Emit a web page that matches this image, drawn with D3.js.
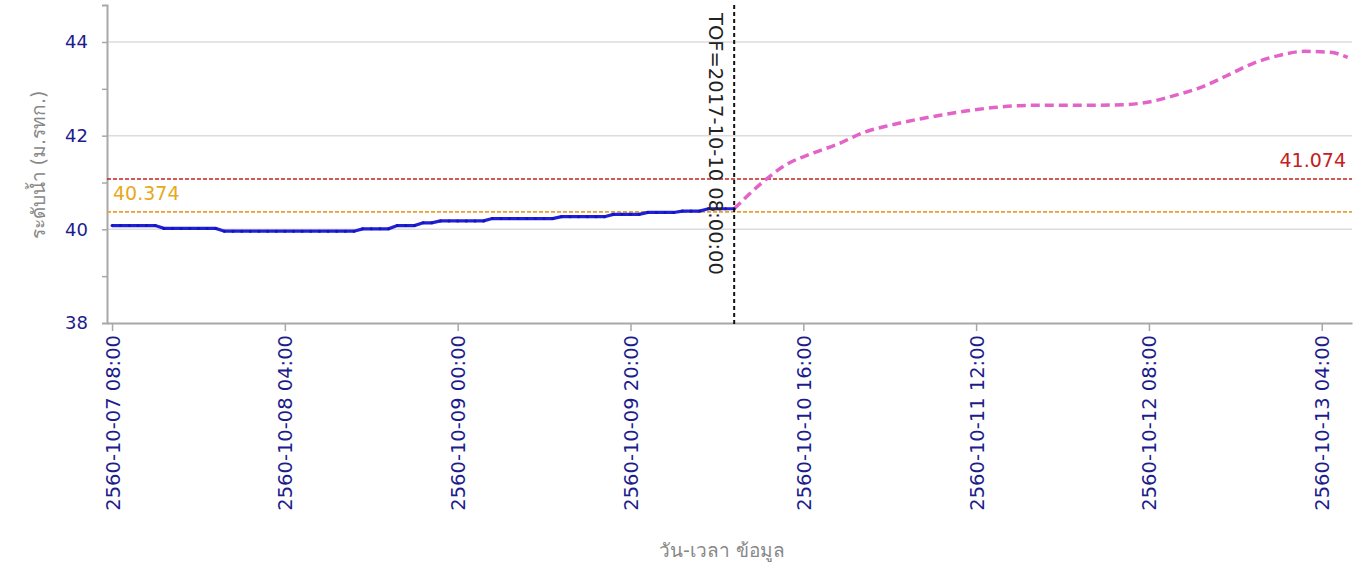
<!DOCTYPE html>
<html>
<head>
<meta charset="utf-8">
<script src="https://cdn.jsdelivr.net/npm/d3@7"></script>
<style>
  body { margin: 0; background: #fff; }
  text { font-family: Tahoma, "DejaVu Sans", sans-serif; }
</style>
</head>
<body>
<div id="chart"></div>
<script>
// observed water level, hourly from 2017-10-07 08:00 (= 2560 BE)
var obsStart = "2017-10-07 08:00";
var obsValues = [
  40.08, 40.08, 40.08, 40.08, 40.08, 40.08,
  40.02, 40.02, 40.02, 40.02, 40.02, 40.02, 40.02,
  39.96, 39.96, 39.96, 39.96, 39.96, 39.96, 39.96, 39.96,
  39.96, 39.96, 39.96, 39.96, 39.96, 39.96, 39.96, 39.96,
  40.01, 40.01, 40.01, 40.01,
  40.08, 40.08, 40.08,
  40.14, 40.14,
  40.18, 40.18, 40.18, 40.18, 40.18, 40.18,
  40.23, 40.23, 40.23, 40.23, 40.23, 40.23, 40.23, 40.23,
  40.27, 40.27, 40.27, 40.27, 40.27, 40.27,
  40.32, 40.32, 40.32, 40.32,
  40.36, 40.36, 40.36, 40.36,
  40.39, 40.39, 40.39,
  40.44, 40.44, 40.44, 40.44
];

// forecast (hours after obsStart, value)
var fcHours  = [72, 75, 78, 81, 84, 87, 90, 93, 96, 99, 102, 105, 108, 111, 114, 117, 120, 123, 126, 129, 132, 135, 138, 141, 143];
var fcValues = [40.44, 40.96, 41.38, 41.62, 41.82, 42.07, 42.22, 42.34, 42.44, 42.53, 42.60, 42.64, 42.65,
                42.65, 42.65, 42.66, 42.72, 42.86, 43.03, 43.28, 43.54, 43.71, 43.80, 43.78, 43.67];

var bankLevel = 41.074;   // red
var warnLevel = 40.374;   // orange
var tofTime = "2017-10-10 08:00";
var tofLabel = "TOF=2017-10-10 08:00:00";

var tickLabels = ["2560-10-07 08:00", "2560-10-08 04:00", "2560-10-09 00:00", "2560-10-09 20:00",
                  "2560-10-10 16:00", "2560-10-11 12:00", "2560-10-12 08:00", "2560-10-13 04:00"];
var yTicks = [38, 40, 42, 44];
var yMinor = [39, 41, 43];

var parse = d3.timeParse("%Y-%m-%d %H:%M");
var t0 = parse(obsStart);
var hr = 3600 * 1000;

var observed = obsValues.map(function(v, i) { return {t: new Date(+t0 + i * hr), v: v}; });
var forecast = fcValues.map(function(v, i) { return {t: new Date(+t0 + fcHours[i] * hr), v: v}; });
var tickDates = tickLabels.map(function(s) { return parse((+s.slice(0, 4) - 543) + s.slice(4)); });

var margin = {top: 5, right: 4, bottom: 241, left: 107},
  width = 1356 - margin.left - margin.right,
  height = 564 - margin.top - margin.bottom;

var svg = d3.select("#chart")
.append("svg")
  .attr("width", 1356)
  .attr("height", 564)
.append("g")
  .attr("transform", "translate(" + margin.left + "," + margin.top + ")");

var x = d3.scaleTime()
  .domain([parse("2017-10-07 07:25"), parse("2017-10-13 07:30")])
  .range([0, width]);
var y = d3.scaleLinear()
  .domain([38, 44.79])
  .range([height, 0]);

// grid
svg.selectAll(".grid")
  .data(yTicks.slice(1))
  .enter().append("line")
    .attr("x1", 0).attr("x2", width)
    .attr("y1", function(d) { return y(d); })
    .attr("y2", function(d) { return y(d); })
    .style("stroke", "#dcdcdc")
    .style("stroke-width", 1.5);

// y axis
var yAxis = svg.append("g")
  .call(d3.axisLeft(y).tickValues(yTicks).tickSize(5).tickPadding(14).tickFormat(d3.format("d")));
yAxis.selectAll(".tick:first-of-type line").remove();
svg.append("g")
  .call(d3.axisLeft(y).tickValues(yMinor).tickSize(5).tickFormat(""))
  .select(".domain").remove();

// x axis
var xAxis = svg.append("g")
  .attr("transform", "translate(0," + height + ")")
  .call(d3.axisBottom(x).tickValues(tickDates).tickSize(8).tickSizeOuter(0)
    .tickFormat(function(d, i) { return tickLabels[i]; }));
xAxis.selectAll("text")
  .attr("transform", "rotate(-90)")
  .attr("x", -12)
  .attr("y", 0)
  .attr("dy", "0.36em")
  .style("text-anchor", "end");

svg.selectAll(".domain").style("stroke", "#a8a8a8").style("stroke-width", 2);
svg.selectAll(".tick line").style("stroke", "#a8a8a8").style("stroke-width", 1.5);
svg.selectAll(".tick text").style("fill", "#1c1c8c").style("font-size", "19.5px");
yAxis.selectAll(".tick text").style("font-size", "18px");

// reference levels
svg.append("line")
  .attr("x1", 0).attr("x2", width)
  .attr("y1", y(bankLevel)).attr("y2", y(bankLevel))
  .style("stroke", "#c42020").style("stroke-width", 1.5).style("stroke-dasharray", "4,2");
svg.append("line")
  .attr("x1", 0).attr("x2", width)
  .attr("y1", y(warnLevel)).attr("y2", y(warnLevel))
  .style("stroke", "#e8a030").style("stroke-width", 1.8).style("stroke-dasharray", "4,2");
svg.append("text")
  .attr("x", 6).attr("y", y(warnLevel) - 12)
  .text(d3.format(".3f")(warnLevel))
  .style("fill", "#e8a81c").style("font-size", "19px");
svg.append("text")
  .attr("x", width - 6).attr("y", y(bankLevel) - 12)
  .attr("text-anchor", "end")
  .text(d3.format(".3f")(bankLevel))
  .style("fill", "#c42020").style("font-size", "19px");

// forecast line
svg.append("path")
  .datum(forecast)
  .attr("d", d3.line().x(function(d) { return x(d.t); }).y(function(d) { return y(d.v); }).curve(d3.curveMonotoneX))
  .style("fill", "none")
  .style("stroke", "#e264c8")
  .style("stroke-width", 3.5)
  .style("stroke-dasharray", "9,5");

// observed line
svg.append("path")
  .datum(observed)
  .attr("d", d3.line().x(function(d) { return x(d.t); }).y(function(d) { return y(d.v); }))
  .style("fill", "none")
  .style("stroke", "#2020d8")
  .style("stroke-width", 3.2);
svg.selectAll(".pt")
  .data(observed)
  .enter().append("circle")
    .attr("cx", function(d) { return x(d.t); })
    .attr("cy", function(d) { return y(d.v); })
    .attr("r", 1.5)
    .style("fill", "#1414b8");

// time of forecast marker
var tx = x(parse(tofTime));
svg.append("line")
  .attr("x1", tx).attr("x2", tx)
  .attr("y1", 0).attr("y2", height + 2)
  .style("stroke", "#111").style("stroke-width", 2).style("stroke-dasharray", "4,3");
svg.append("text")
  .attr("transform", "translate(" + (tx - 25) + ",8) rotate(90)")
  .text(tofLabel)
  .style("fill", "#222").style("font-size", "19.5px");

// axis titles
svg.append("text")
  .attr("transform", "rotate(-90)")
  .attr("x", -160)
  .attr("y", -62)
  .attr("text-anchor", "middle")
  .text("ระดับน้ำ (ม.รทก.)")
  .style("fill", "#888").style("font-size", "19px");
svg.append("text")
  .attr("x", 615)
  .attr("y", 552)
  .attr("text-anchor", "middle")
  .text("วัน-เวลา ข้อมูล")
  .style("fill", "#888").style("font-size", "19px");
</script>
</body>
</html>
